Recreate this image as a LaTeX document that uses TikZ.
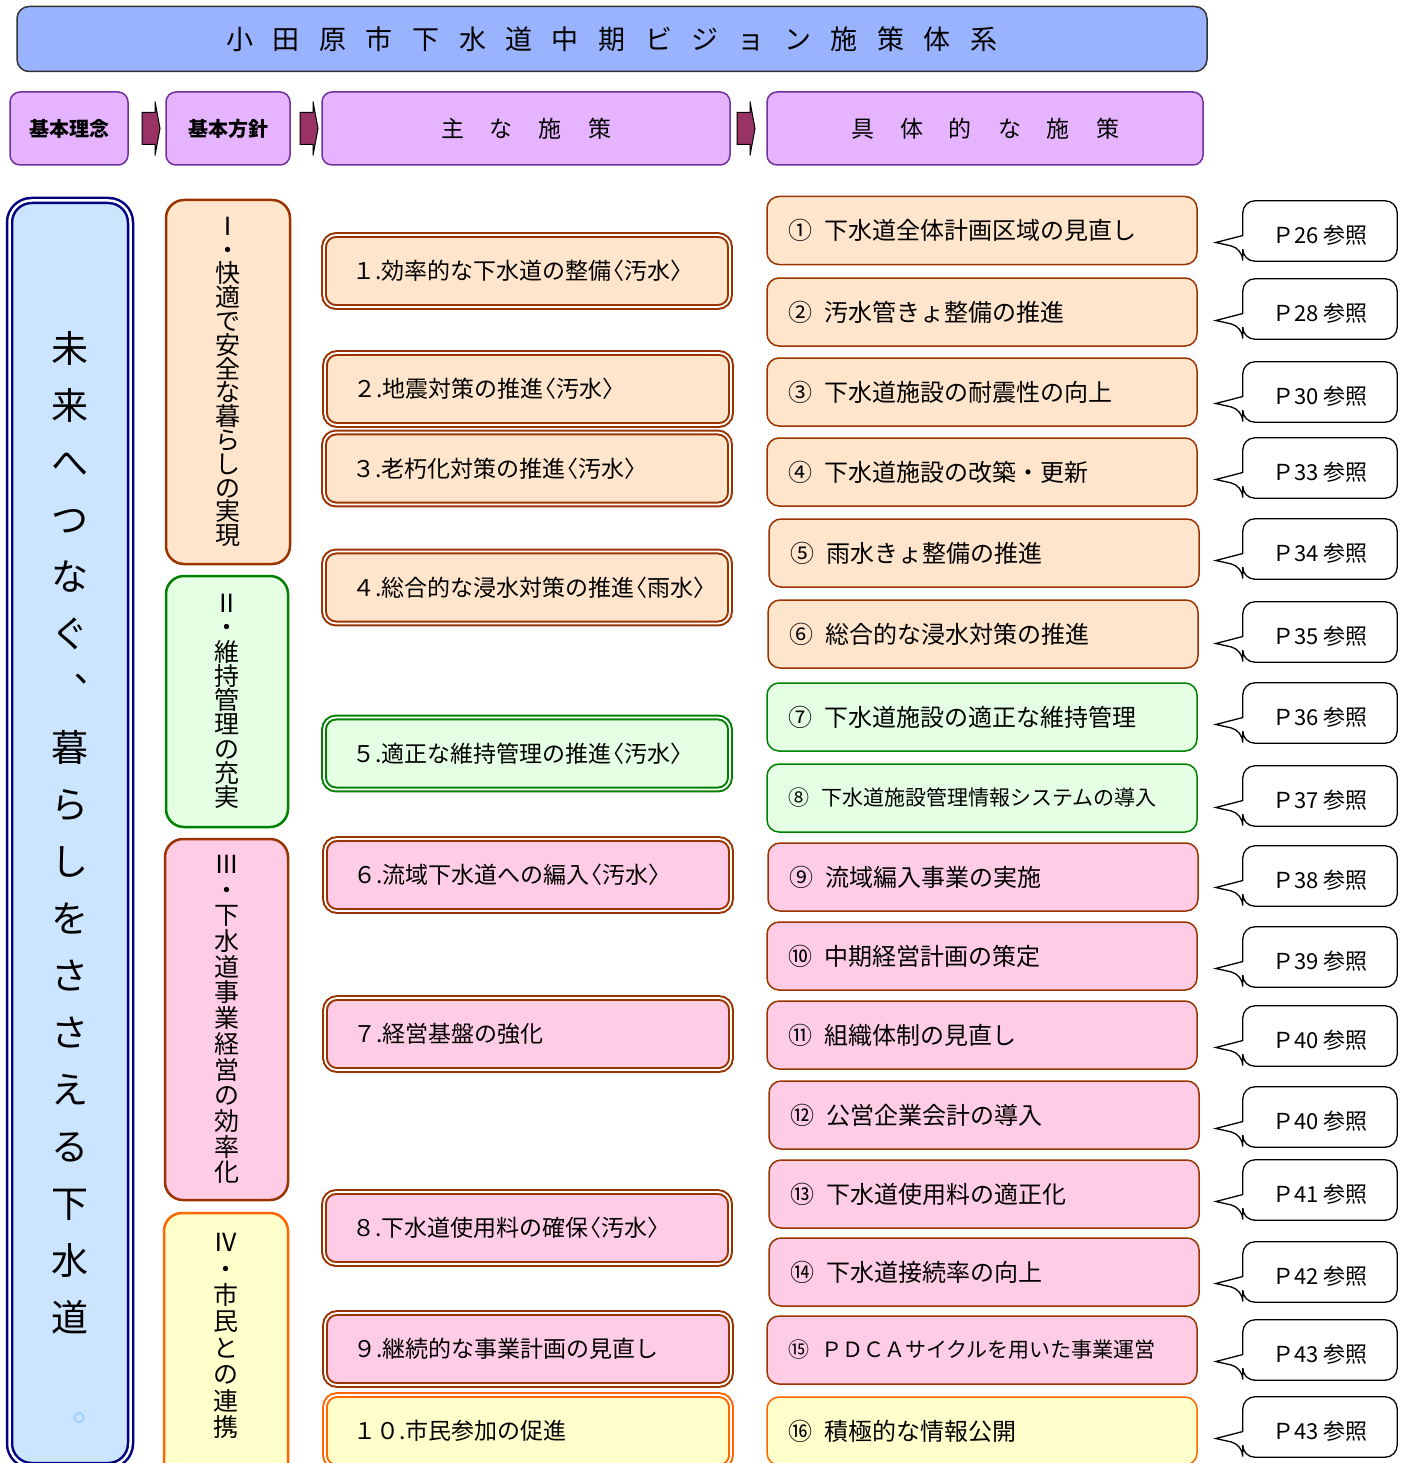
\documentclass[tikz,border=0pt]{standalone}
\usepackage{fontspec}
\setmainfont{Noto Sans CJK JP}
\usepackage{tikz}
\usetikzlibrary{calc}
\usepackage{xcolor}

\definecolor{titleblue}{RGB}{153,179,255}
\definecolor{headfill}{RGB}{230,180,255}
\definecolor{headline}{RGB}{112,48,160}
\definecolor{arrowfill}{RGB}{153,51,102}
\definecolor{miraifill}{RGB}{204,229,255}
\definecolor{navyline}{RGB}{0,0,128}
\definecolor{kaitekifill}{RGB}{255,229,204}
\definecolor{brownline}{RGB}{153,51,0}
\definecolor{ijifill}{RGB}{229,255,229}
\definecolor{ijiline}{RGB}{0,128,0}
\definecolor{keieifill}{RGB}{255,204,230}
\definecolor{shiminfill}{RGB}{255,255,204}
\definecolor{shiminline}{RGB}{255,102,0}
\definecolor{marublue}{RGB}{153,204,255}

\tikzstyle{titlebox} = [rectangle, rounded corners=12pt, draw=black!80, line width=1.5pt, fill=titleblue, minimum width=1190pt, minimum height=65pt, font=\fontsize{27}{30}\selectfont]
\tikzstyle{headbox} = [rectangle, rounded corners=10pt, draw=headline, line width=1.5pt, fill=headfill, minimum height=73pt]
\tikzstyle{hdarrow} = [draw=black, line width=1pt, fill=arrowfill]
\tikzstyle{column} = [rectangle, rounded corners=18pt, line width=2.5pt, inner sep=0pt, text width=30pt, align=center, font=\fontsize{25}{24}\selectfont]
\tikzstyle{measure} = [rectangle, rounded corners=12pt, line width=2pt, double=white, double distance=1.8pt, minimum width=406pt, minimum height=72pt, text width=350pt, align=left, inner xsep=28pt, font=\fontsize{23}{28}\selectfont]
\tikzstyle{item} = [rectangle, rounded corners=12pt, line width=1.5pt, minimum width=430pt, minimum height=68pt, text width=388pt, align=left, inner xsep=21pt, font=\fontsize{24}{28}\selectfont]
\tikzstyle{kaiteki} = [draw=brownline, fill=kaitekifill]
\tikzstyle{iji} = [draw=ijiline, fill=ijifill]
\tikzstyle{keiei} = [draw=brownline, fill=keieifill]
\tikzstyle{shimin} = [draw=shiminline, fill=shiminfill]
\tikzstyle{pageref} = [rectangle, minimum width=154pt, minimum height=60pt, text height=25pt, text depth=0pt, font=\fontsize{22}{24}\selectfont]
\tikzstyle{bubble} = [draw=black, line width=1.3pt]

% letters set apart in one line
\newcommand{\spaced}[2]{\foreach \ch [count=\k] in {#2}{\ifnum\k>1\hspace{#1}\fi\ch}}
% one letter per line, top to bottom
\newcommand{\tate}[1]{\parindent=0pt\lineskiplimit=-20pt\foreach \ch in {#1}{\ch\par}}
% rounded speech bubble round a page note, tail to the left
\newcommand{\bubble}[1]{\draw[bubble] ([yshift=-4.5pt]#1.west) [rounded corners=12pt] -- (#1.north west) -- (#1.north east) -- (#1.south east) -- (#1.south west) -- ([yshift=-17.5pt]#1.west) [sharp corners] -- ([xshift=-27pt,yshift=-11.5pt]#1.west) -- cycle;}
\newcommand{\nsp}{\kern12pt}
% narrow angle brackets round the kind of water
\newcommand{\ob}{\kern-0.45em〈}
\newcommand{\cb}{〉\kern-0.45em}

\begin{document}
\begin{tikzpicture}[x=1pt, y=-1pt]
  \useasboundingbox (0,0) rectangle (1408,1463);
  \clip (0,0) rectangle (1408,1463);

  % title
  \node[titlebox] (title) at (612,39) {\spaced{19.5pt}{小,田,原,市,下,水,道,中,期,ビ,ジ,ョ,ン,施,策,体,系}};

  % header row
  \node[headbox, minimum width=118pt, font=\bfseries\fontsize{20}{24}\selectfont] (rinen) at (69,128.5) {基本理念};
  \node[headbox, minimum width=124pt, font=\bfseries\fontsize{20}{24}\selectfont] (hoshin) at (228,128.5) {基本方針};
  \node[headbox, minimum width=408pt, font=\fontsize{23}{26}\selectfont] (shusaku) at (526,128.5) {\spaced{26pt}{主,な,施,策}};
  \node[headbox, minimum width=436pt, font=\fontsize{23}{26}\selectfont] (gutai) at (985,128.5) {\spaced{26pt}{具,体,的,な,施,策}};

  \coordinate (ar1) at (142,128.5);
  \coordinate (ar2) at (300,128.5);
  \coordinate (ar3) at (737,128.5);
  \draw[hdarrow, shift={(ar1)}] (0,-16) -- (13,-16) -- (13,-27) -- (18,0) -- (13,27) -- (13,16) -- (0,16) -- cycle;
  \draw[hdarrow, shift={(ar2)}] (0,-16) -- (13,-16) -- (13,-27) -- (18,0) -- (13,27) -- (13,16) -- (0,16) -- cycle;
  \draw[hdarrow, shift={(ar3)}] (0,-16) -- (13,-16) -- (13,-27) -- (18,0) -- (13,27) -- (13,16) -- (0,16) -- cycle;

  % basic idea
  \node[column, draw=navyline, fill=miraifill, double=white, double distance=2.5pt, rounded corners=22pt, minimum width=121pt, minimum height=1265pt, text width=45pt, font=\fontsize{37}{57}\selectfont] (mirai) at (70,833) {\tate{未,来,へ,つ,な,ぐ,︑,暮,ら,し,を,さ,さ,え,る,下,水,道}};
  \node[text=marublue, font=\fontsize{36}{40}\selectfont] (maru) at (90,1418) {。};

  % basic policies
  \node[column, kaiteki, minimum width=124pt, minimum height=364pt, font=\fontsize{25}{23.8}\selectfont] (kaiteki) at (228,382) {\tate{Ⅰ,・,快,適,で,安,全,な,暮,ら,し,の,実,現}};
  \node[column, iji, minimum width=122pt, minimum height=251pt, font=\fontsize{25}{24.3}\selectfont] (iji) at (227,701.5) {\tate{Ⅱ,・,維,持,管,理,の,充,実}};
  \node[column, keiei, minimum width=123pt, minimum height=361pt, font=\fontsize{25}{25.7}\selectfont] (keiei) at (226.5,1019.5) {\tate{Ⅲ,・,下,水,道,事,業,経,営,の,効,率,化}};
  \node[column, shimin, minimum width=124pt, minimum height=277pt] (shimin) at (226,1351.5) {};
  \node[column, font=\fontsize{25}{26.4}\selectfont] (shimintxt) at (226,1336) {\tate{Ⅳ,・,市,民,と,の,連,携}};

  % main measures
  \node[measure, kaiteki] (m1) at (527,271) {１.効率的な下水道の整備\ob 汚水\cb};
  \node[measure, kaiteki] (m2) at (528,389) {２.地震対策の推進\ob 汚水\cb};
  \node[measure, kaiteki] (m3) at (527,468.5) {３.老朽化対策の推進\ob 汚水\cb};
  \node[measure, kaiteki] (m4) at (527,587.5) {４.総合的な浸水対策の推進\ob 雨水\cb};
  \node[measure, iji] (m5) at (527,753.5) {５.適正な維持管理の推進\ob 汚水\cb};
  \node[measure, keiei] (m6) at (528,875) {６.流域下水道への編入\ob 汚水\cb};
  \node[measure, keiei] (m7) at (528,1034) {７.経営基盤の強化};
  \node[measure, keiei] (m8) at (527,1228) {８.下水道使用料の確保\ob 汚水\cb};
  \node[measure, keiei] (m9) at (528,1349) {９.継続的な事業計画の見直し};
  \node[measure, shimin] (m10) at (528,1431) {１０.市民参加の促進};

  % concrete measures
  \node[item, kaiteki] (s1) at (982,230.5) {①\nsp 下水道全体計画区域の見直し};
  \node[item, kaiteki] (s2) at (982,312) {②\nsp 汚水管きょ整備の推進};
  \node[item, kaiteki] (s3) at (982,392) {③\nsp 下水道施設の耐震性の向上};
  \node[item, kaiteki] (s4) at (982,472) {④\nsp 下水道施設の改築・更新};
  \node[item, kaiteki] (s5) at (984,553) {⑤\nsp 雨水きょ整備の推進};
  \node[item, kaiteki] (s6) at (983,634) {⑥\nsp 総合的な浸水対策の推進};
  \node[item, iji] (s7) at (982,717) {⑦\nsp 下水道施設の適正な維持管理};
  \node[item, iji, font=\fontsize{21}{26}\selectfont] (s8) at (982,798) {⑧\nsp 下水道施設管理情報システムの導入};
  \node[item, keiei] (s9) at (983,877) {⑨\nsp 流域編入事業の実施};
  \node[item, keiei] (s10) at (982,956) {⑩\nsp 中期経営計画の策定};
  \node[item, keiei] (s11) at (982,1035) {⑪\nsp 組織体制の見直し};
  \node[item, keiei] (s12) at (984,1115) {⑫\nsp 公営企業会計の導入};
  \node[item, keiei] (s13) at (984,1194) {⑬\nsp 下水道使用料の適正化};
  \node[item, keiei] (s14) at (984,1272) {⑭\nsp 下水道接続率の向上};
  \node[item, keiei, font=\fontsize{21}{26}\selectfont] (s15) at (982,1350) {⑮\nsp ＰＤＣＡサイクルを用いた事業運営};
  \node[item, shimin] (s16) at (982,1431) {⑯\nsp 積極的な情報公開};

  % page notes
  \node[pageref] (p1) at (1320,231) {Ｐ26 参照};
  \node[pageref] (p2) at (1320,309) {Ｐ28 参照};
  \node[pageref] (p3) at (1320,392) {Ｐ30 参照};
  \node[pageref] (p4) at (1320,468) {Ｐ33 参照};
  \node[pageref] (p5) at (1320,549) {Ｐ34 参照};
  \node[pageref] (p6) at (1320,632) {Ｐ35 参照};
  \node[pageref] (p7) at (1320,713) {Ｐ36 参照};
  \node[pageref] (p8) at (1320,796) {Ｐ37 参照};
  \node[pageref] (p9) at (1320,876) {Ｐ38 参照};
  \node[pageref] (p10) at (1320,957) {Ｐ39 参照};
  \node[pageref] (p11) at (1320,1036) {Ｐ40 参照};
  \node[pageref] (p12) at (1320,1117) {Ｐ40 参照};
  \node[pageref] (p13) at (1320,1190) {Ｐ41 参照};
  \node[pageref] (p14) at (1320,1272) {Ｐ42 参照};
  \node[pageref] (p15) at (1320,1350) {Ｐ43 参照};
  \node[pageref] (p16) at (1320,1427) {Ｐ43 参照};
  \bubble{p1} \bubble{p2} \bubble{p3} \bubble{p4}
  \bubble{p5} \bubble{p6} \bubble{p7} \bubble{p8}
  \bubble{p9} \bubble{p10} \bubble{p11} \bubble{p12}
  \bubble{p13} \bubble{p14} \bubble{p15} \bubble{p16}
\end{tikzpicture}
\end{document}
